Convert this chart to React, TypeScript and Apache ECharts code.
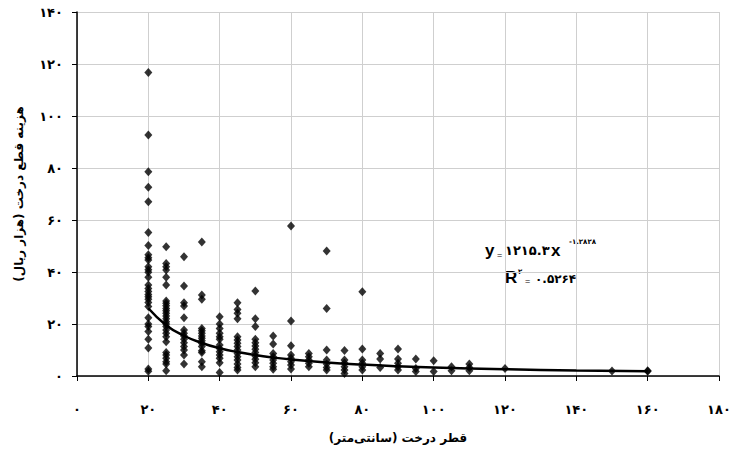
import React, { useEffect, useRef } from "react";
import * as echarts from "echarts";

// Tree diameter (cm) columns and the cost values (thousand rials) read at each
const diameters = [20, 25, 30, 35, 40, 45, 50, 55, 60, 65, 70, 75, 80, 85, 90, 95, 100, 105, 110, 120, 150, 160];
const d20 = [116.7, 92.7, 78.6, 72.6, 67.0, 55.2, 50.2, 46.6, 45.5, 44.6, 42.0, 40.9, 39.9, 38.0, 35.0, 33.7, 32.5, 31.3, 30.5, 29.5, 28.3, 26.7, 22.4, 20.0, 19.0, 17.1, 14.1, 10.8, 2.7, 1.8];
const d25 = [49.7, 43.3, 42.0, 40.8, 38.0, 35.0, 28.8, 28.0, 27.0, 26.0, 25.1, 24.1, 23.1, 22.0, 20.9, 20.0, 19.0, 17.7, 16.4, 15.1, 13.2, 9.0, 8.1, 6.8, 5.5, 4.6, 2.0];
const d30 = [45.9, 34.6, 28.2, 26.9, 22.4, 17.7, 16.4, 15.4, 14.1, 12.8, 11.3, 10.0, 8.1, 4.6];
const d35 = [51.5, 31.2, 29.5, 18.3, 17.4, 16.4, 15.4, 14.5, 13.6, 12.6, 11.3, 9.7, 9.0, 5.5, 3.6];
const d40 = [22.8, 20.0, 18.3, 16.4, 15.1, 14.1, 11.9, 10.6, 9.3, 8.1, 6.8, 5.1, 1.3];
const d45 = [28.2, 25.6, 24.1, 22.0, 15.1, 13.8, 12.6, 11.3, 10.0, 8.7, 7.4, 6.2, 4.6, 3.3, 2.3];
const d50 = [32.7, 22.0, 19.0, 14.1, 12.8, 11.5, 10.3, 9.0, 7.7, 6.4, 5.1, 3.6];
const d55 = [15.4, 12.3, 8.7, 7.4, 6.2, 4.9, 3.6, 2.6];
const d60 = [57.7, 21.2, 11.6, 8.1, 6.8, 5.5, 4.2, 2.7];
const d65 = [8.7, 7.4, 6.2, 4.9, 3.6];
const d70 = [48.1, 26.0, 10.0, 6.2, 4.6, 3.3, 2.3];
const d75 = [9.8, 6.2, 5.0, 3.6, 2.3, 1.0];
const d80 = [32.4, 10.4, 6.2, 4.9, 3.6, 2.3];
const d85 = [8.7, 6.5, 3.3];
const d90 = [10.4, 6.5, 4.9, 3.6, 2.3];
const d95 = [6.5, 2.9, 1.7];
const d100 = [5.9, 1.7];
const d105 = [3.6, 2.0];
const d110 = [4.6, 3.3, 2.0];
const d120 = [2.9];
const d150 = [1.9];
const d160 = [1.8, 2.0];
const columns = [d20, d25, d30, d35, d40, d45, d50, d55, d60, d65, d70, d75, d80, d85, d90, d95, d100, d105, d110, d120, d150, d160];

// Power trend line y = 1215.3 x^-1.2828 (values as drawn)
const trendX = [20, 25, 30, 35, 40, 45, 50, 55, 60, 70, 80, 90, 100, 120, 140, 160];
const trendY = [26.05, 19.56, 15.48, 12.71, 10.70, 9.20, 8.04, 7.11, 6.36, 5.22, 4.40, 3.78, 3.30, 2.62, 2.15, 1.81];

const xTickLabels = ["۰", "۲۰", "۴۰", "۶۰", "۸۰", "۱۰۰", "۱۲۰", "۱۴۰", "۱۶۰", "۱۸۰"];
const yTickLabels = ["۰", "۲۰", "۴۰", "۶۰", "۸۰", "۱۰۰", "۱۲۰", "۱۴۰"];
const xTitle = "قطر درخت (سانتی‌متر)";
const yTitle = "هزینه قطع درخت (هزار ریال)";
const eqCoef = "۱۲۱۵.۳";
const eqExp = "-۱.۲۸۲۸";
const r2Value = "۰.۵۲۶۴";

const FA = "'DejaVu Sans', sans-serif";
const LAT = "'Liberation Sans', Arial, sans-serif";

export default function App() {
  const ref = useRef<HTMLDivElement>(null);
  useEffect(() => {
    if (!ref.current) return;
    const chart = echarts.init(ref.current, undefined, { renderer: "svg" });
    const points: number[][] = [];
    columns.forEach((col, i) => col.forEach((v) => points.push([diameters[i], v])));
    const trend = trendX.map((x, i) => [x, trendY[i]]);

    chart.setOption({
      animation: false,
      backgroundColor: "#ffffff",
      grid: { left: 77, top: 12, right: 15, bottom: 82 },
      xAxis: {
        type: "value",
        min: 0,
        max: 180,
        interval: 20,
        name: xTitle,
        nameLocation: "middle",
        nameGap: 56,
        nameTextStyle: { fontFamily: FA, fontWeight: "bold", fontSize: 12, color: "#000" },
        axisLine: { show: true, onZero: false, lineStyle: { color: "#000", width: 1.5 } },
        axisTick: { show: true, inside: false, length: 5, lineStyle: { color: "#000" } },
        axisLabel: {
          margin: 27,
          fontFamily: FA,
          fontWeight: "bold",
          fontSize: 13,
          color: "#000",
          formatter: (v: number) => xTickLabels[Math.round(v / 20)] ?? "",
        },
        splitLine: { show: true, lineStyle: { color: "#cfcfcf", width: 1 } },
      },
      yAxis: {
        type: "value",
        min: 0,
        max: 140,
        interval: 20,
        name: yTitle,
        nameLocation: "middle",
        nameGap: 52,
        nameRotate: 90,
        nameTextStyle: { fontFamily: FA, fontWeight: "bold", fontSize: 12, color: "#000" },
        axisLine: { show: true, onZero: false, lineStyle: { color: "#000", width: 1.5 } },
        axisTick: { show: true, inside: false, length: 5, lineStyle: { color: "#000" } },
        axisLabel: {
          margin: 14,
          fontFamily: FA,
          fontWeight: "bold",
          fontSize: 13,
          color: "#000",
          formatter: (v: number) => yTickLabels[Math.round(v / 20)] ?? "",
        },
        splitLine: { show: true, lineStyle: { color: "#cfcfcf", width: 1 } },
      },
      series: [
        {
          type: "scatter",
          data: points,
          symbol: "diamond",
          symbolSize: [8, 9],
          itemStyle: { color: "#000" },
          z: 3,
        },
        {
          type: "line",
          data: trend,
          smooth: true,
          showSymbol: false,
          lineStyle: { color: "#000", width: 2.5 },
          z: 4,
        },
      ],
      graphic: [
        { type: "text", left: 485, top: 242, style: { text: "y", font: `bold 17px ${LAT}`, fill: "#000" } },
        { type: "text", left: 497, top: 250, style: { text: "=", font: `9px ${LAT}`, fill: "#000" } },
        { type: "text", left: 505, top: 244, style: { text: eqCoef, font: `bold 13px ${FA}`, fill: "#000" } },
        { type: "text", left: 551, top: 242, style: { text: "x", font: `bold 17px ${LAT}`, fill: "#000" } },
        { type: "text", left: 569, top: 238, style: { text: eqExp, font: `bold 7px ${FA}`, fill: "#000" } },
        { type: "text", left: 505, top: 269, style: { text: "R", font: `bold 17px ${LAT}`, fill: "#000" } },
        { type: "text", left: 518, top: 268, style: { text: "۲", font: `bold 7px ${FA}`, fill: "#000" } },
        { type: "text", left: 525, top: 276, style: { text: "=", font: `9px ${LAT}`, fill: "#000" } },
        { type: "text", left: 535, top: 273, style: { text: r2Value, font: `bold 12px ${FA}`, fill: "#000" } },
      ],
    });
    return () => chart.dispose();
  }, []);
  return <div ref={ref} style={{ width: 734, height: 458, position: "absolute", left: 0, top: 0 }} />;
}
